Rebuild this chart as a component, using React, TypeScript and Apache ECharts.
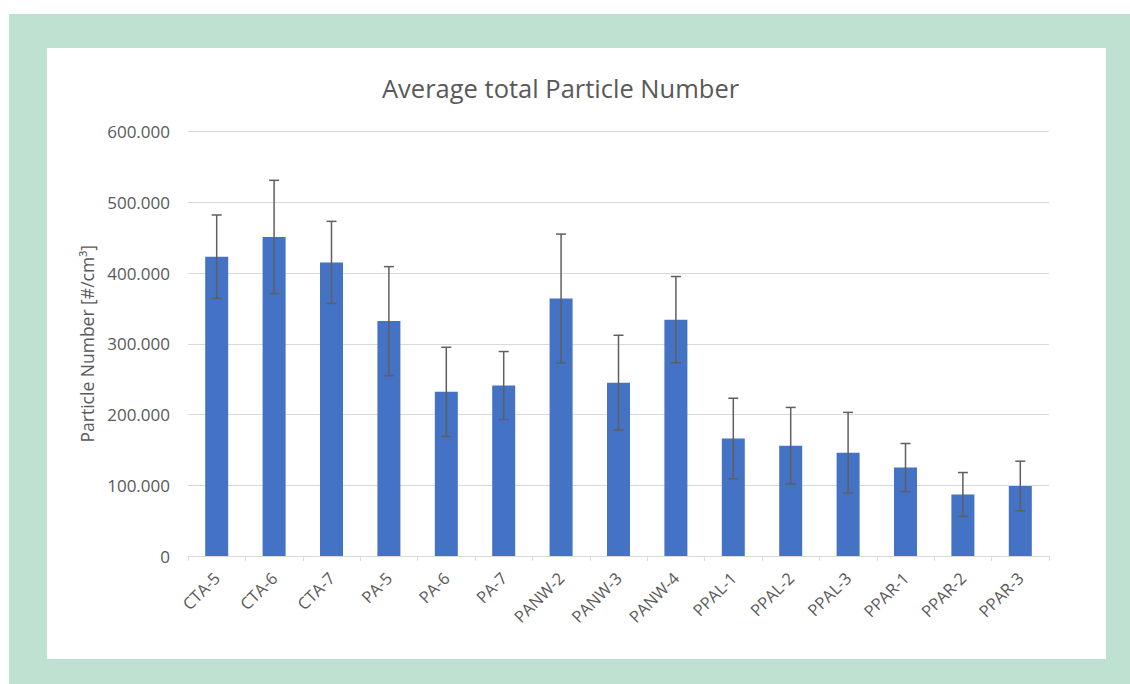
import React, { useEffect, useRef } from "react";
import * as echarts from "echarts";

const categories = [
  "CTA-5", "CTA-6", "CTA-7", "PA-5", "PA-6", "PA-7", "PANW-2", "PANW-3", "PANW-4",
  "PPAL-1", "PPAL-2", "PPAL-3", "PPAR-1", "PPAR-2", "PPAR-3",
];
const meanValues = [
  423000, 451000, 415000, 332000, 232000, 241000, 364000, 245000, 334000,
  166000, 156000, 146000, 125000, 87000, 99000,
];
const errorValues = [
  59000, 80000, 58000, 77000, 63000, 48000, 91000, 67000, 61000,
  57000, 54000, 57000, 34000, 31000, 35000,
];
const yTicks = [0, 100000, 200000, 300000, 400000, 500000, 600000];

const titleText = "Average total Particle Number";
const yAxisName = "Particle Number [#/cm³]";

const FONT = "'Open Sans', sans-serif";
const TEXT = "#595959";

function fmt(v: number): string {
  if (v === 0) return "0";
  return String(Math.round(v)).replace(/\B(?=(\d{3})+(?!\d))/g, ".");
}

export default function App() {
  const ref = useRef<HTMLDivElement>(null);
  useEffect(() => {
    if (!ref.current) return;
    const chart = echarts.init(ref.current, null, { renderer: "svg" });
    const errData = meanValues.map((m, i) => [i, m - errorValues[i], m + errorValues[i]]);
    chart.setOption({
      animation: false,
      title: {
        text: titleText,
        left: 330,
        top: 22,
        textStyle: { fontFamily: FONT, fontSize: 25.5, fontWeight: "normal", color: TEXT },
      },
      grid: { left: 141, right: 57, top: 83.5, bottom: 103 },
      xAxis: {
        type: "category",
        data: categories,
        axisLine: { lineStyle: { color: "#d9d9d9", width: 1 } },
        axisTick: { show: true, length: 5, alignWithLabel: false, lineStyle: { color: "#d9d9d9" } },
        axisLabel: {
          rotate: 45,
          interval: 0,
          margin: 19,
          color: TEXT,
          fontFamily: FONT,
          fontSize: 16.5,
        },
      },
      yAxis: {
        type: "value",
        min: 0,
        max: 600000,
        interval: 100000,
        name: yAxisName,
        nameLocation: "middle",
        nameGap: 83,
        nameTextStyle: { color: TEXT, fontFamily: FONT, fontSize: 17.5 },
        axisLine: { show: false },
        axisTick: { show: false },
        axisLabel: {
          color: TEXT,
          fontFamily: FONT,
          fontSize: 17,
          margin: 18,
          formatter: (v: number) => (yTicks.includes(v) ? fmt(v) : ""),
        },
        splitLine: { lineStyle: { color: "#d9d9d9", width: 1 } },
      },
      series: [
        {
          type: "bar",
          data: meanValues,
          barWidth: 23,
          itemStyle: { color: "#4472c4" },
        },
        {
          type: "custom",
          data: errData,
          z: 10,
          renderItem: (params: any, api: any) => {
            const x = api.value(0);
            const lo = api.coord([x, api.value(1)]);
            const hi = api.coord([x, api.value(2)]);
            const cap = 5;
            const style = { stroke: "#5f5f5f", lineWidth: 1.5 };
            return {
              type: "group",
              children: [
                { type: "line", shape: { x1: hi[0], y1: hi[1], x2: lo[0], y2: lo[1] }, style },
                { type: "line", shape: { x1: hi[0] - cap, y1: hi[1], x2: hi[0] + cap, y2: hi[1] }, style },
                { type: "line", shape: { x1: lo[0] - cap, y1: lo[1], x2: lo[0] + cap, y2: lo[1] }, style },
              ],
            };
          },
        },
      ],
    });
    return () => chart.dispose();
  }, []);

  return (
    <div style={{ position: "fixed", left: 0, top: 0, width: 1130, height: 684, background: "#ffffff", overflow: "hidden" }}>
      <div style={{ position: "absolute", left: 9, top: 14, width: 1121, height: 670, background: "#bfe1d1" }} />
      <div style={{ position: "absolute", left: 47, top: 48, width: 1059, height: 611, background: "#ffffff" }}>
        <div ref={ref} style={{ width: 1059, height: 611 }} />
      </div>
    </div>
  );
}
